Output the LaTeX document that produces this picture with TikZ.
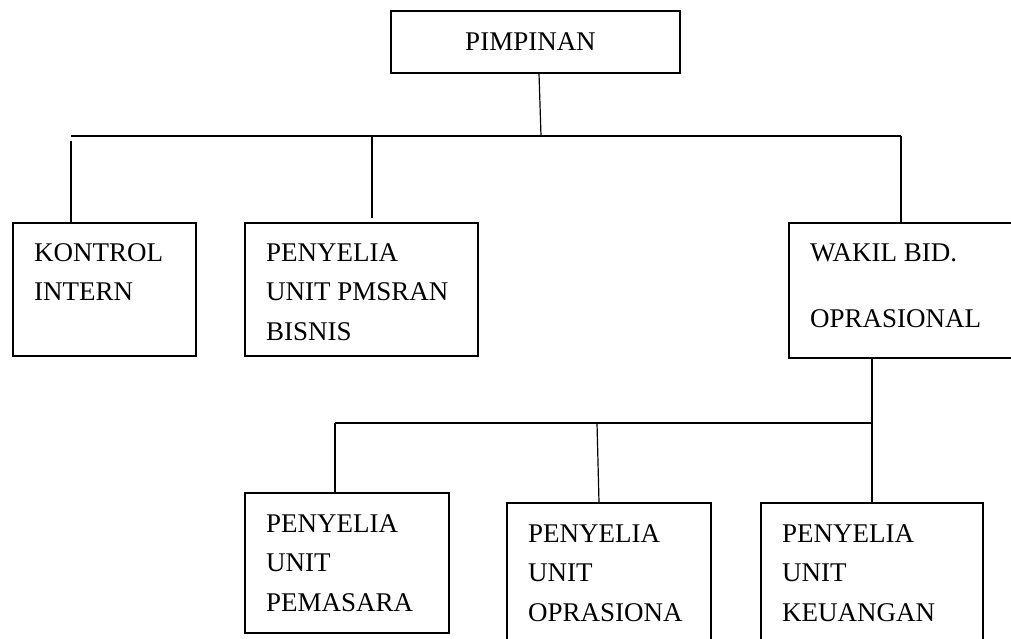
\documentclass[tikz,border=0pt]{standalone}
\usepackage{fontspec}
\setmainfont{Liberation Serif}
\begin{document}
\begin{tikzpicture}[x=1pt,y=1pt,
  box/.style={draw,line width=1.2pt,rectangle,inner sep=0pt},
  lbl/.style={anchor=north west,inner sep=0pt,align=left,font=\fontsize{27}{39.5}\selectfont},
  conn/.style={line width=1.2pt}]
\clip (0,0) rectangle (1011,-639);
\fill[white] (0,0) rectangle (1011,-639);
% boxes
\node[box,minimum width=289pt,minimum height=62pt,font=\fontsize{27}{39.5}\selectfont] (pim) at (535.5,-42) {\hspace*{-10pt}PIMPINAN};
\node[box,minimum width=183pt,minimum height=133pt] (kon) at (104.5,-289.5) {};
\node[box,minimum width=233pt,minimum height=133pt] (pms) at (361.5,-289.5) {};
\node[box,minimum width=226pt,minimum height=135pt] (wak) at (902,-290.5) {};
\node[box,minimum width=204pt,minimum height=140pt] (pem) at (347,-563) {};
\node[box,minimum width=204pt,minimum height=142pt] (opr) at (609,-574) {};
\node[box,minimum width=222pt,minimum height=142pt] (keu) at (872,-574) {};
% texts
\node[lbl] (konT) at ([shift={(21.5pt,-21pt)}]kon.north west) {KONTROL\\INTERN};
\node[lbl] (pmsT) at ([shift={(21.5pt,-21pt)}]pms.north west) {PENYELIA\\UNIT PMSRAN\\BISNIS};
\node[lbl] (wakT) at ([shift={(21.5pt,-21pt)}]wak.north west) {WAKIL BID.\\[26.5pt]OPRASIONAL};
\node[lbl] (pemT) at ([shift={(21.5pt,-22pt)}]pem.north west) {PENYELIA\\UNIT\\PEMASARA};
\node[lbl] (oprT) at ([shift={(21.5pt,-22pt)}]opr.north west) {PENYELIA\\UNIT\\OPRASIONA};
\node[lbl] (keuT) at ([shift={(21.5pt,-22pt)}]keu.north west) {PENYELIA\\UNIT\\KEUANGAN};
% connectors
\coordinate (bt) at (541,-136);
\coordinate (busL) at (71,-136);
\coordinate (busR) at (901,-136);
\coordinate (b2) at (372,-136);
\coordinate (lbL) at (335,-423);
\coordinate (lbM) at (597,-423);
\draw[conn] ([xshift=3.5pt]pim.south) -- (bt);
\draw[conn] (busL) -- (busR);
\draw[conn] ([yshift=-5pt]busL) -- (busL |- kon.north);
\draw[conn] (b2) -- ([yshift=4pt]b2 |- pms.north);
\draw[conn] (busR) -- (busR |- wak.north);
\draw[conn] (keu.north |- wak.south) -- (keu.north);
\draw[conn] (lbL) -- (lbL -| keu.north);
\draw[conn] (lbL) -- (lbL |- pem.north);
\draw[conn] (lbM) -- ([xshift=-10pt]opr.north);
\end{tikzpicture}
\end{document}
